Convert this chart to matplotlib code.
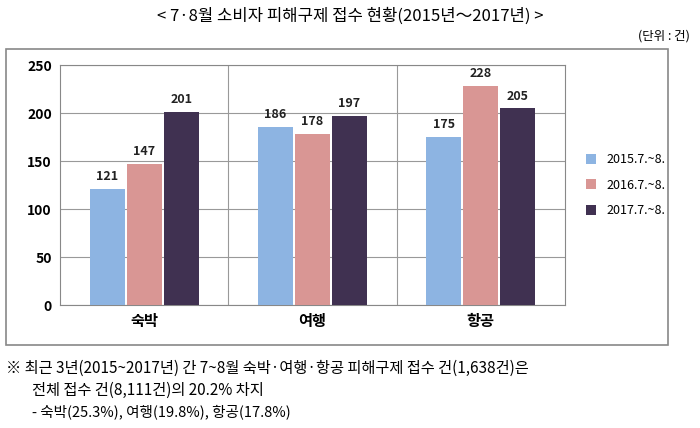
import matplotlib.pyplot as plt
import matplotlib.font_manager as fm
import numpy as np
from matplotlib.patches import Rectangle

# pick an installed CJK family that actually has Korean glyphs
names = sorted({f.name for f in fm.fontManager.ttflist})
cjk = [n for n in names if 'CJK' in n]
pref = [n for n in ['Noto Sans CJK KR', 'Noto Sans CJK JP', 'Noto Sans CJK SC', 'Noto Sans CJK TC'] if n in names]
family = (pref or cjk or ['DejaVu Sans'])[0]
plt.rcParams['font.family'] = [family, 'DejaVu Sans']

categories = ['숙박', '여행', '항공']
series_names = ['2015.7.~8.', '2016.7.~8.', '2017.7.~8.']
v2015 = [121, 186, 175]
v2016 = [147, 178, 228]
v2017 = [201, 197, 205]
yticks = [0, 50, 100, 150, 200, 250]
colors = ['#8DB4E2', '#D99694', '#403151']

fig = plt.figure(figsize=(7, 4.28), dpi=100)
fig.text(0.5, 0.962, '< 7·8월 소비자 피해구제 접수 현황(2015년～2017년) >',
         ha='center', va='center', fontsize=12)
fig.text(0.985, 0.915, '(단위 : 건)', ha='right', va='center', fontsize=9)

# outer chart frame
fig.patches.append(Rectangle((0.008, 0.195), 0.946, 0.69, transform=fig.transFigure,
                             fill=False, edgecolor='#888888', linewidth=1.2))

ax = fig.add_axes([0.086, 0.287, 0.721, 0.561])
x = np.arange(len(categories))
w = 0.21
for i, (vals, c) in enumerate(zip([v2015, v2016, v2017], colors)):
    bars = ax.bar(x + (i - 1) * (w + 0.01), vals, w, color=c, label=series_names[i], zorder=3)
    for b, v in zip(bars, vals):
        ax.text(b.get_x() + b.get_width() / 2, v + 6, str(v), ha='center', va='bottom',
                fontsize=9, fontweight='bold', color='#222222')

ax.set_xlim(-0.5, 2.5)
ax.set_ylim(0, 250)
ax.set_yticks(yticks)
ax.set_yticklabels([str(t) for t in yticks], fontsize=10, fontweight='bold')
ax.yaxis.grid(True, color='#999999', linewidth=0.8, zorder=0)
for b in [0.5, 1.5]:
    ax.axvline(b, color='#999999', linewidth=0.8, zorder=0)
ax.set_xticks(x)
ax.set_xticklabels(categories, fontsize=11, fontweight='bold')
ax.tick_params(length=0, pad=6)
for s in ax.spines.values():
    s.set_color('#888888')

ax.legend(loc='center left', bbox_to_anchor=(1.02, 0.5), frameon=False, fontsize=9,
          handlelength=0.8, handleheight=0.8, labelspacing=1.0)

fig.text(0.008, 0.14, '※ 최근 3년(2015~2017년) 간 7~8월 숙박·여행·항공 피해구제 접수 건(1,638건)은',
         fontsize=11, va='center')
fig.text(0.045, 0.088, '전체 접수 건(8,111건)의 20.2% 차지', fontsize=11, va='center')
fig.text(0.045, 0.038, '- 숙박(25.3%), 여행(19.8%), 항공(17.8%)', fontsize=10.5, va='center')

fig.savefig('out.png', dpi=100)
